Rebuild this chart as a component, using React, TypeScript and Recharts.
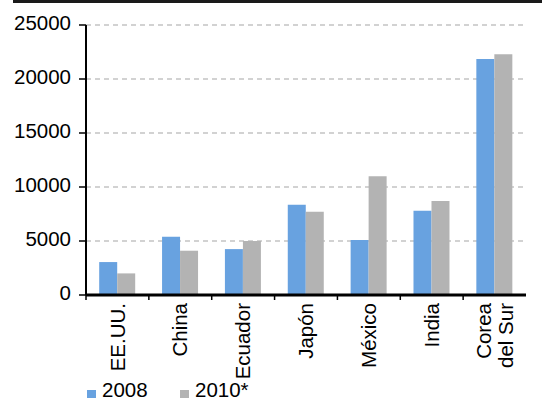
import React from 'react';
import { BarChart, Bar, XAxis, YAxis, CartesianGrid } from 'recharts';

// data
const countries = ['EE.UU.', 'China', 'Ecuador', 'Japón', 'México', 'India', 'Corea del Sur'];
const values2008 = [3050, 5400, 4250, 8350, 5100, 7800, 21850];
const values2010 = [2000, 4100, 5000, 7700, 11000, 8700, 22300];
const yTicks = [0, 5000, 10000, 15000, 20000, 25000];

const series = [
  { key: 'v2008', name: '2008', color: '#68a2e0', values: values2008 },
  { key: 'v2010', name: '2010*', color: '#b3b3b3', values: values2010 },
];

const FONT = '"Liberation Sans", Arial, sans-serif';
const FS = 20.5;
const CAT_FS = 20.5;
const W = 549;
const H = 400;
const margin = { top: 25, right: 23, bottom: 0, left: 0 };
const Y_AXIS_W = 86;
const X_AXIS_H = 105;
const step = (W - margin.left - margin.right - Y_AXIS_W) / countries.length;

const chartData = countries.map((c, i) => {
  const row: any = { country: c };
  series.forEach((s) => {
    row[s.key] = s.values[i];
  });
  return row;
});

// rotated category label, plus a tick mark at the left edge of each category
function CategoryTick(props: any) {
  const { x, y, payload } = props;
  const words = String(payload.value).split(' ');
  const lines = words.length > 2 ? [words[0], words.slice(1).join(' ')] : [payload.value];
  const lineH = 22;
  return (
    <g>
      <line x1={x - step / 2} y1={y} x2={x - step / 2} y2={y + 5} stroke="#000" strokeWidth={1.5} />
      <g transform={`translate(${x},${y + 8}) rotate(-90)`}>
        <text textAnchor="end" fontFamily={FONT} fontSize={CAT_FS} fill="#000">
          {lines.map((l, i) => (
            <tspan key={i} x={0} dy={i === 0 ? `${0.35 - ((lines.length - 1) * lineH) / 2 / CAT_FS}em` : lineH}>
              {l}
            </tspan>
          ))}
        </text>
      </g>
    </g>
  );
}

function ValueTick(props: any) {
  const { x, y, payload } = props;
  return (
    <text x={x} y={y - 2} dy="0.355em" textAnchor="end" fontFamily={FONT} fontSize={FS} fill="#000">
      {payload.value}
    </text>
  );
}

export default function App() {
  return (
    <div style={{ position: 'absolute', left: 0, top: 0, width: W, height: H, background: '#fff' }}>
      <BarChart width={W} height={H} data={chartData} margin={margin} barCategoryGap="21%" barGap={0}>
        <CartesianGrid vertical={false} stroke="#c4c4c4" strokeDasharray="5 4" strokeWidth={1.3} />
        <XAxis
          dataKey="country"
          height={X_AXIS_H}
          interval={0}
          axisLine={{ stroke: '#000', strokeWidth: 3 }}
          tickLine={false}
          tickSize={0}
          tickMargin={0}
          tick={<CategoryTick />}
        />
        <YAxis
          width={Y_AXIS_W}
          domain={[0, 25000]}
          ticks={yTicks}
          interval={0}
          axisLine={{ stroke: '#000', strokeWidth: 2 }}
          tickLine={{ stroke: '#000', strokeWidth: 1.5 }}
          tickSize={7}
          tickMargin={8}
          tick={<ValueTick />}
        />
        {series.map((s) => (
          <Bar key={s.key} dataKey={s.key} name={s.name} fill={s.color} isAnimationActive={false} />
        ))}
      </BarChart>
      <div style={{ position: 'absolute', left: 13, top: 0, width: 529, height: 3, background: '#1a1a1a', zIndex: 5 }} />
      <div style={{ position: 'absolute', left: 87, top: 378, display: 'flex', fontFamily: FONT, fontSize: FS, color: '#000', zIndex: 5 }}>
        {series.map((s) => (
          <div key={s.key} style={{ display: 'flex', alignItems: 'center', width: 93 }}>
            <span style={{ display: 'inline-block', width: 9, height: 8, background: s.color, marginRight: 6, marginTop: 8 }} />
            <span>{s.name}</span>
          </div>
        ))}
      </div>
    </div>
  );
}
